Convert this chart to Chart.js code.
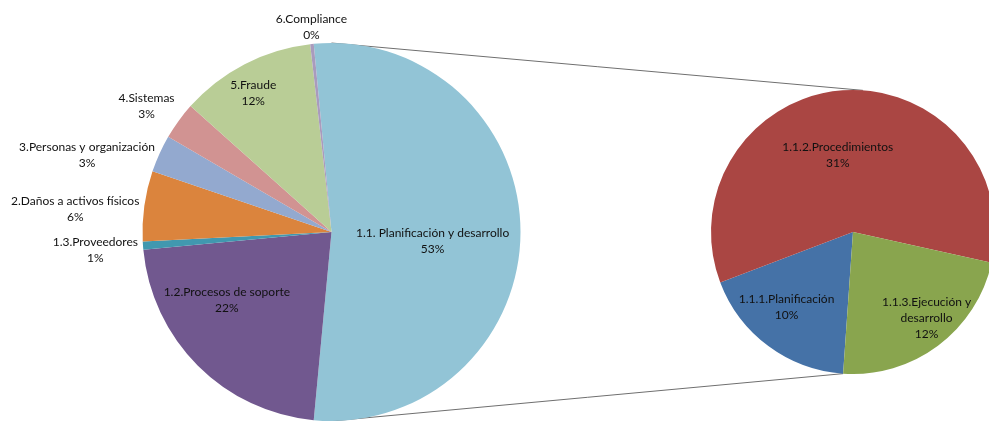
<!DOCTYPE html>
<html lang="es">
<head>
<meta charset="utf-8">
<title>Distribución de eventos por categoría</title>
<script src="https://cdn.jsdelivr.net/npm/chart.js@4.4.1/dist/chart.umd.min.js"></script>
<style>
	html, body { margin: 0; padding: 0; background: #fff; }
	.stage { position: relative; width: 989px; height: 421px; overflow: hidden; }
	.stage canvas { position: absolute; left: 0; top: 0; }
	#detailChart { pointer-events: none; }
</style>
</head>
<body>
<div class="stage">
	<canvas id="mainChart" width="989" height="421"></canvas>
	<canvas id="detailChart" width="1000" height="421"></canvas>
</div>
<script>
// Slice that gets broken out into the second pie
const splitLabel = '1.1. Planificación y desarrollo';

const mainLabels = [
	'1.2.Procesos de soporte',
	'1.3.Proveedores',
	'2.Daños a activos físicos',
	'3.Personas y organización',
	'4.Sistemas',
	'5.Fraude',
	'6.Compliance',
];
const mainValues = [22.0, 0.7, 6.0, 3.2, 3.2, 11.6, 0.3];

const detailLabels = ['1.1.1.Planificación', '1.1.2.Procedimientos', '1.1.3.Ejecución y desarrollo'];
const detailValues = [9.6, 31.4, 12.0];

const mainColors = ['#92C4D6', '#71588F', '#4198AF', '#DB843D', '#93A9CF', '#D19392', '#B9CD96', '#A99BBD'];
const detailColors = ['#4572A7', '#AA4643', '#89A54E'];

// label placement: null = outside the pie, otherwise radius fraction + angular tweak (deg)
const mainPlacement = [
	{ r: 0.537, turn: 5 },
	{ r: 0.66, turn: 12 },
	null, null, null, null,
	{ r: 0.845, turn: -2 },
	null,
];
const detailPlacement = [
	{ r: 0.705, turn: 5 },
	{ r: 0.554, turn: -7 },
	{ r: 0.80, turn: -3.6 },
];

const FONT = '12px Lato, "Open Sans", sans-serif';
const TEXT_COLOR = '#111';
const LINE_HEIGHT = 16;
const OUTSIDE_GAP = 5;
const OUTSIDE_DROP = 4;

const splitTotal = detailValues.reduce((sum, v) => sum + v, 0);
const grandTotal = splitTotal + mainValues.reduce((sum, v) => sum + v, 0);

const percent = (value) => `${Math.round(value / grandTotal * 100)}%`;

const wrapText = (ctx, text, maxWidth) => {
	const words = text.split(' ');
	const lines = [];
	let current = '';
	words.forEach((word) => {
		const attempt = current ? `${current} ${word}` : word;
		if (current && ctx.measureText(attempt).width > maxWidth) {
			lines.push(current);
			current = word;
		} else {
			current = attempt;
		}
	});
	lines.push(current);
	return lines;
};

const makeSliceLabels = (placement, wrapWidth) => ({
	id: 'sliceLabels',
	afterDatasetsDraw(chart) {
		const { ctx } = chart;
		const meta = chart.getDatasetMeta(0);
		const values = chart.data.datasets[0].data;

		ctx.save();
		ctx.font = FONT;
		ctx.fillStyle = TEXT_COLOR;
		ctx.textAlign = 'center';
		ctx.textBaseline = 'middle';

		meta.data.forEach((arc, i) => {
			const lines = wrapText(ctx, chart.data.labels[i], wrapWidth).concat(percent(values[i]));
			const blockW = Math.max(...lines.map((line) => ctx.measureText(line).width));
			const blockH = lines.length * LINE_HEIGHT;
			const mid = (arc.startAngle + arc.endAngle) / 2;
			const place = placement[i];
			let cx;
			let cy;

			if (place) {
				const angle = mid + place.turn * Math.PI / 180;
				cx = arc.x + Math.cos(angle) * arc.outerRadius * place.r;
				cy = arc.y + Math.sin(angle) * arc.outerRadius * place.r;
			} else {
				// small slices: label sits just past the rim, pushed away from the pie
				const reach = arc.outerRadius + OUTSIDE_GAP;
				const c = Math.cos(mid);
				const s = Math.sin(mid);
				const ax = arc.x + c * reach;
				const ay = arc.y + s * reach;
				cx = c < -0.3 ? ax - blockW / 2 : (c > 0.3 ? ax + blockW / 2 : ax);
				cy = (s < -0.5 ? ay - blockH / 2 : (s > 0.5 ? ay + blockH / 2 : ay)) + OUTSIDE_DROP;
			}

			lines.forEach((line, k) => {
				ctx.fillText(line, cx, cy - blockH / 2 + LINE_HEIGHT * (k + 0.5));
			});
		});

		ctx.restore();
	},
});

const clampAngle = (angle, min, max) => Math.min(Math.max(angle, min), max);

const pointOn = (arc, angle) => ({
	x: arc.x + Math.cos(angle) * arc.outerRadius,
	y: arc.y + Math.sin(angle) * arc.outerRadius,
});

const detailChart = new Chart(document.getElementById('detailChart'), {
	type: 'pie',
	data: {
		labels: detailLabels,
		datasets: [{
			data: detailValues,
			backgroundColor: detailColors,
			borderWidth: 0,
			hoverOffset: 0,
		}],
	},
	options: {
		responsive: false,
		animation: false,
		events: [],
		rotation: 184,
		layout: { padding: { left: 711, right: 5, top: 90, bottom: 47 } },
		plugins: {
			legend: { display: false },
			tooltip: { enabled: false },
		},
	},
	plugins: [makeSliceLabels(detailPlacement, 125)],
});

// lines joining the split slice to the second pie, drawn under the main pie
const connectors = {
	id: 'connectors',
	beforeDatasetsDraw(chart) {
		const split = chart.getDatasetMeta(0).data[0];
		const detail = detailChart.getDatasetMeta(0).data[0];
		const { ctx } = chart;

		const mainTop = pointOn(split, clampAngle(-Math.PI / 2, split.startAngle, split.endAngle));
		const mainBottom = pointOn(split, clampAngle(Math.PI / 2, split.startAngle, split.endAngle));
		const detailBottom = pointOn(detail, detail.startAngle);
		const detailTop = pointOn(detail, detail.startAngle - Math.PI);

		ctx.save();
		ctx.strokeStyle = '#6f6f6f';
		ctx.lineWidth = 1;
		ctx.beginPath();
		ctx.moveTo(mainTop.x, mainTop.y);
		ctx.lineTo(detailTop.x, detailTop.y);
		ctx.moveTo(mainBottom.x, mainBottom.y);
		ctx.lineTo(detailBottom.x, detailBottom.y);
		ctx.stroke();
		ctx.restore();
	},
};

const splitShare = splitTotal / grandTotal;

new Chart(document.getElementById('mainChart'), {
	type: 'pie',
	data: {
		labels: [splitLabel, ...mainLabels],
		datasets: [{
			data: [splitTotal, ...mainValues],
			backgroundColor: mainColors,
			borderWidth: 0,
			hoverOffset: 0,
		}],
	},
	options: {
		responsive: false,
		animation: false,
		events: [],
		// keep the split slice centred on the right-hand side
		rotation: 90 - splitShare * 180,
		layout: { padding: { left: 142, right: 468, top: 43, bottom: 0 } },
		plugins: {
			legend: { display: false },
			tooltip: { enabled: false },
		},
	},
	plugins: [connectors, makeSliceLabels(mainPlacement, 400)],
});
</script>
</body>
</html>
